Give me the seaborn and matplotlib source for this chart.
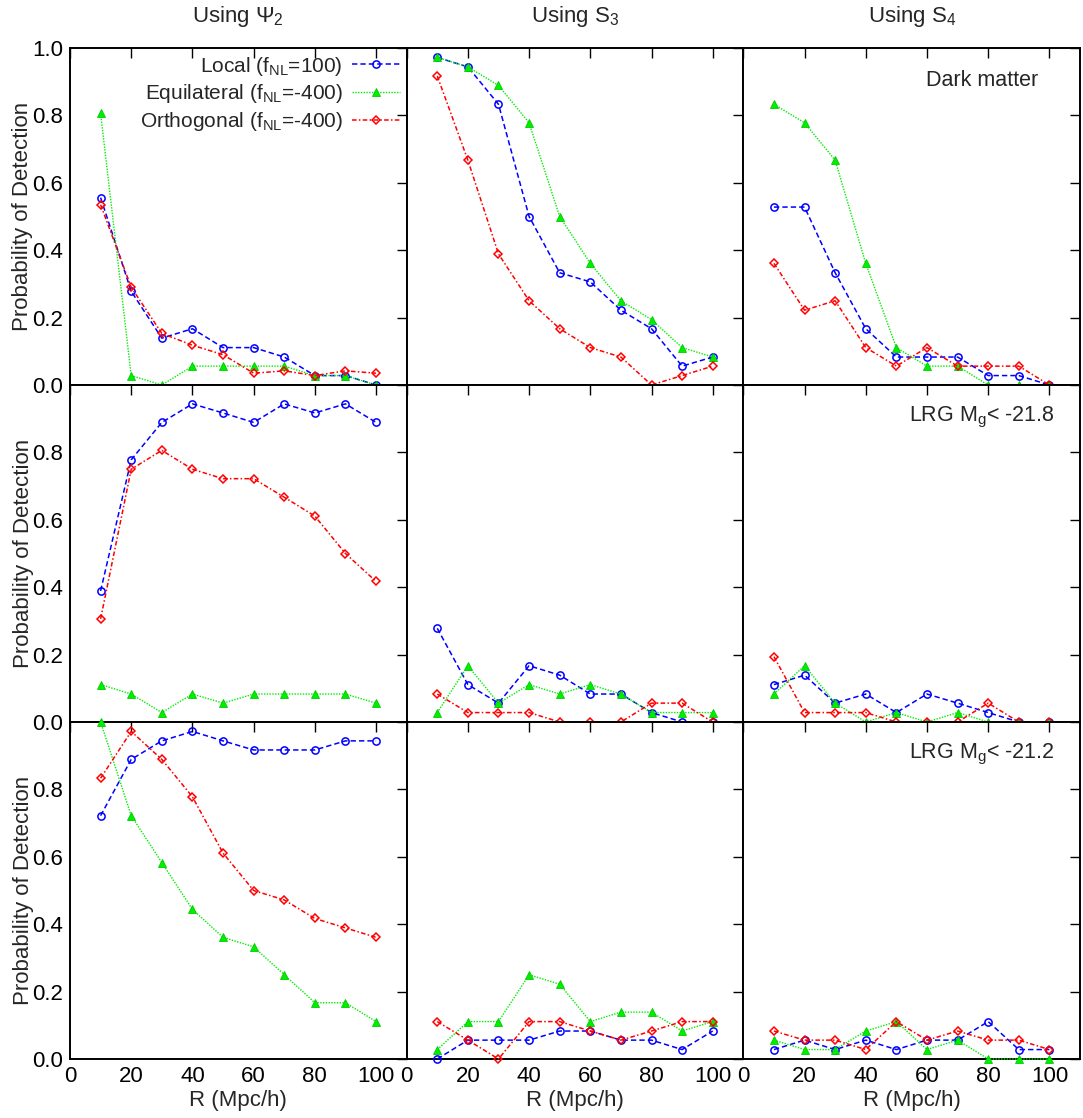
import numpy as np
import pandas as pd
import matplotlib
matplotlib.use("Agg")
import matplotlib.pyplot as plt
import seaborn as sns

# ---------------- data ----------------
R = [10, 20, 30, 40, 50, 60, 70, 80, 90, 100]

col_titles = ["Using Ψ$_2$", "Using S$_3$", "Using S$_4$"]
row_notes = ["Dark matter", "LRG M$_g$< -21.8", "LRG M$_g$< -21.2"]
series_names = ["Local (f$_{NL}$=100)", "Equilateral (f$_{NL}$=-400)", "Orthogonal (f$_{NL}$=-400)"]

# Row 1: Dark matter
dm_psi2_local = [0.556, 0.278, 0.139, 0.167, 0.111, 0.111, 0.083, 0.028, 0.028, 0.0]
dm_psi2_equi  = [0.806, 0.028, 0.0, 0.056, 0.056, 0.056, 0.056, 0.028, 0.028, 0.0]
dm_psi2_orth  = [0.535, 0.290, 0.153, 0.118, 0.090, 0.035, 0.042, 0.028, 0.042, 0.035]

dm_s3_local = [0.972, 0.944, 0.833, 0.500, 0.333, 0.306, 0.222, 0.167, 0.056, 0.083]
dm_s3_equi  = [0.972, 0.944, 0.889, 0.778, 0.500, 0.361, 0.250, 0.194, 0.111, 0.083]
dm_s3_orth  = [0.917, 0.667, 0.389, 0.250, 0.167, 0.111, 0.083, 0.0, 0.028, 0.056]

dm_s4_local = [0.528, 0.528, 0.333, 0.167, 0.083, 0.083, 0.083, 0.028, 0.028, 0.0]
dm_s4_equi  = [0.833, 0.778, 0.667, 0.361, 0.111, 0.056, 0.056, 0.0, 0.0, 0.0]
dm_s4_orth  = [0.361, 0.222, 0.250, 0.111, 0.056, 0.111, 0.056, 0.056, 0.056, 0.0]

# Row 2: LRG Mg < -21.8
l218_psi2_local = [0.389, 0.778, 0.889, 0.944, 0.917, 0.889, 0.944, 0.917, 0.944, 0.889]
l218_psi2_equi  = [0.111, 0.083, 0.028, 0.083, 0.056, 0.083, 0.083, 0.083, 0.083, 0.056]
l218_psi2_orth  = [0.306, 0.750, 0.806, 0.750, 0.722, 0.722, 0.667, 0.611, 0.500, 0.417]

l218_s3_local = [0.278, 0.111, 0.056, 0.167, 0.139, 0.083, 0.083, 0.028, 0.0, 0.0]
l218_s3_equi  = [0.028, 0.167, 0.056, 0.111, 0.083, 0.111, 0.083, 0.028, 0.028, 0.028]
l218_s3_orth  = [0.083, 0.028, 0.028, 0.028, 0.0, 0.0, 0.0, 0.056, 0.056, 0.0]

l218_s4_local = [0.111, 0.139, 0.056, 0.083, 0.028, 0.083, 0.056, 0.028, 0.0, 0.0]
l218_s4_equi  = [0.083, 0.167, 0.056, 0.0, 0.028, 0.0, 0.028, 0.0, 0.0, 0.0]
l218_s4_orth  = [0.194, 0.028, 0.028, 0.028, 0.0, 0.0, 0.0, 0.056, 0.0, 0.0]

# Row 3: LRG Mg < -21.2
l212_psi2_local = [0.722, 0.889, 0.944, 0.972, 0.944, 0.917, 0.917, 0.917, 0.944, 0.944]
l212_psi2_equi  = [1.0, 0.722, 0.583, 0.444, 0.361, 0.333, 0.250, 0.167, 0.167, 0.111]
l212_psi2_orth  = [0.833, 0.972, 0.889, 0.778, 0.611, 0.500, 0.472, 0.417, 0.389, 0.361]

l212_s3_local = [0.0, 0.056, 0.056, 0.056, 0.083, 0.083, 0.056, 0.056, 0.028, 0.083]
l212_s3_equi  = [0.028, 0.111, 0.111, 0.250, 0.222, 0.111, 0.139, 0.139, 0.083, 0.111]
l212_s3_orth  = [0.111, 0.056, 0.0, 0.111, 0.111, 0.083, 0.056, 0.083, 0.111, 0.111]

l212_s4_local = [0.028, 0.056, 0.028, 0.056, 0.028, 0.056, 0.056, 0.111, 0.028, 0.028]
l212_s4_equi  = [0.056, 0.028, 0.028, 0.083, 0.111, 0.028, 0.056, 0.0, 0.0, 0.0]
l212_s4_orth  = [0.083, 0.056, 0.056, 0.028, 0.111, 0.056, 0.083, 0.056, 0.056, 0.028]

grid_data = [
    [(dm_psi2_local, dm_psi2_equi, dm_psi2_orth),
     (dm_s3_local, dm_s3_equi, dm_s3_orth),
     (dm_s4_local, dm_s4_equi, dm_s4_orth)],
    [(l218_psi2_local, l218_psi2_equi, l218_psi2_orth),
     (l218_s3_local, l218_s3_equi, l218_s3_orth),
     (l218_s4_local, l218_s4_equi, l218_s4_orth)],
    [(l212_psi2_local, l212_psi2_equi, l212_psi2_orth),
     (l212_s3_local, l212_s3_equi, l212_s3_orth),
     (l212_s4_local, l212_s4_equi, l212_s4_orth)],
]

xticks = [0, 20, 40, 60, 80, 100]
yticks = [0.0, 0.2, 0.4, 0.6, 0.8, 1.0]

# ---------------- style ----------------
sns.set_theme(style="white")
plt.rcParams["font.family"] = ["Liberation Sans", "DejaVu Sans"]
plt.rcParams["mathtext.default"] = "regular"
plt.rcParams["mathtext.fontset"] = "custom"
plt.rcParams["mathtext.rm"] = "Liberation Sans"
plt.rcParams["mathtext.it"] = "Liberation Sans"

FS = 16
styles = [
    dict(color="#0000ff", marker="o", linestyle=(0, (3.5, 2)), markersize=5.2,
         markerfacecolor="none", markeredgecolor="#0000ff", markeredgewidth=1.1, linewidth=1.1),
    dict(color="#00ee00", marker="^", linestyle=(0, (1, 1)), markersize=5.2,
         markerfacecolor="#00ee00", markeredgecolor="#00cc00", markeredgewidth=0.6, linewidth=1.0),
    dict(color="#ff0000", marker="D", linestyle=(0, (3, 1.5, 1, 1.5)), markersize=3.8,
         markerfacecolor="none", markeredgecolor="#ff0000", markeredgewidth=1.1, linewidth=1.1),
]

fig, axes = plt.subplots(3, 3, figsize=(10.83, 11.18), dpi=100)
fig.subplots_adjust(left=70 / 1083, right=1080 / 1083, top=1 - 48 / 1118,
                    bottom=1 - 1059 / 1118, wspace=0, hspace=0)

for i in range(3):
    for j in range(3):
        ax = axes[i, j]
        for k in range(3):
            df = pd.DataFrame({"R": R, "P": grid_data[i][j][k]})
            sns.lineplot(data=df, x="R", y="P", ax=ax, label=series_names[k],
                         legend=False, clip_on=False, zorder=3, **styles[k])
        ax.set_xlim(0, 110)
        ax.set_ylim(0, 1)
        ax.set_xticks(xticks)
        ax.set_yticks(yticks)
        ax.tick_params(direction="in", top=True, right=True, length=7, width=1.0,
                       labelsize=FS, colors="black", pad=5)
        for s in ax.spines.values():
            s.set_linewidth(1.4)
            s.set_color("black")
        if i == 2:
            ax.set_xticklabels([str(t) for t in xticks])
            ax.set_xlabel("R (Mpc/h)", fontsize=FS, labelpad=2)
        else:
            ax.set_xticklabels([])
            ax.set_xlabel("")
        if j == 0:
            labs = ["%.1f" % t for t in yticks]
            if i > 0:
                labs[-1] = ""
            ax.set_yticklabels(labs)
            ax.set_ylabel("Probability of Detection", fontsize=FS, labelpad=-1)
        else:
            ax.set_yticklabels([])
            ax.set_ylabel("")
        if i == 0:
            ax.set_title(col_titles[j], fontsize=FS, pad=19)
        if j == 2:
            ax.text(0.875 if i == 0 else 0.925, 0.905, row_notes[i], transform=ax.transAxes,
                    ha="right", va="center", fontsize=FS - 0.5)

leg = axes[0, 0].legend(loc="upper right", markerfirst=False, frameon=False,
                        fontsize=FS - 1, handlelength=2.3, handletextpad=0.45,
                        labelspacing=0.22, borderaxespad=0.0,
                        bbox_to_anchor=(1.005, 1.005))

fig.savefig("out.png", dpi=100)
